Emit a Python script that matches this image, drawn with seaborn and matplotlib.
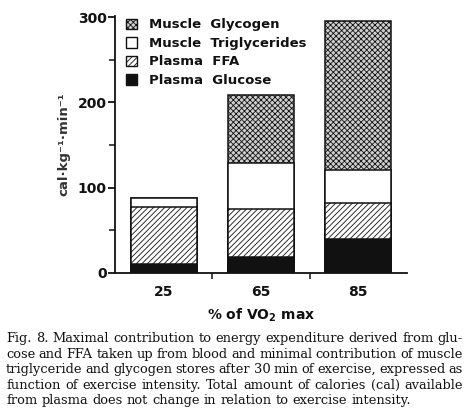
import matplotlib
matplotlib.use("Agg")
import matplotlib.pyplot as plt
import seaborn as sns
import pandas as pd
import numpy as np

# ---- data ----
intensity = ["25", "65", "85"]
plasma_glucose = [10, 18, 40]
plasma_ffa = [67, 57, 42]
muscle_tg = [11, 54, 39]
muscle_glycogen = [0, 80, 175]
y_ticks = [0, 100, 200, 300]

caption_lines = [
    "Fig. 8. Maximal contribution to energy expenditure derived from glu-",
    "cose and FFA taken up from blood and minimal contribution of muscle",
    "triglyceride and glycogen stores after 30 min of exercise, expressed as",
    "function of exercise intensity. Total amount of calories (cal) available",
    "from plasma does not change in relation to exercise intensity.",
]

sns.set_theme(style="ticks")
plt.rcParams["font.family"] = ["DejaVu Sans"]
plt.rcParams["hatch.linewidth"] = 0.6

df = pd.DataFrame({
    "intensity": intensity,
    "glucose": plasma_glucose,
    "ffa": plasma_ffa,
    "tg": muscle_tg,
    "glycogen": muscle_glycogen,
})
df["c1"] = df["glucose"]
df["c2"] = df["c1"] + df["ffa"]
df["c3"] = df["c2"] + df["tg"]
df["c4"] = df["c3"] + df["glycogen"]

fig = plt.figure(figsize=(4.72, 4.15), dpi=100)
ax = fig.add_axes([0.2436, 0.3429, 0.6186, 0.6193])

layers = [
    ("c4", "Muscle  Glycogen", "#cfcfcf", "xxxxxx"),
    ("c3", "Muscle  Triglycerides", "white", None),
    ("c2", "Plasma  FFA", "white", "//////"),
    ("c1", "Plasma  Glucose", "#111111", None),
]
handles = []
for col, lab, fc, hatch in layers:
    sns.barplot(data=df, x="intensity", y=col, ax=ax, color=fc, width=0.68,
                edgecolor="#111111", linewidth=1.1, hatch=hatch, saturation=1,
                errorbar=None)
    handles.append(matplotlib.patches.Patch(facecolor=fc, edgecolor="#111111",
                                            hatch=hatch, linewidth=1.0, label=lab))

ax.set_xlim(-0.5, 2.5)
ax.set_ylim(0, 302)
ax.set_yticks(y_ticks)
ax.set_yticks([50, 150, 250], minor=True)
ax.set_xticks([0.5, 1.5], minor=True)
for s in ["top", "right"]:
    ax.spines[s].set_visible(False)
for s in ["left", "bottom"]:
    ax.spines[s].set_linewidth(1.3)
    ax.spines[s].set_color("#111111")
ax.tick_params(axis="y", which="major", length=5, width=1.3, pad=1,
               labelsize=10, colors="#111111")
ax.tick_params(axis="y", which="minor", length=4, width=1.1, color="#111111")
ax.tick_params(axis="x", which="major", length=0, pad=9, labelsize=10,
               colors="#111111")
ax.tick_params(axis="x", which="minor", length=4, width=1.1, color="#111111")
for t in ax.get_xticklabels() + ax.get_yticklabels():
    t.set_fontweight("bold")
ax.set_xlabel(r"% of VO$_\mathbf{2}$ max", fontsize=10, fontweight="bold",
              labelpad=5, color="#111111")
ax.set_ylabel("cal·kg⁻¹·min⁻¹", fontsize=9.5, fontweight="bold",
              labelpad=5, color="#333333")

leg = ax.legend(handles=handles, loc="upper left", bbox_to_anchor=(0.02, 1.01),
                frameon=False, fontsize=9.5, handlelength=0.85,
                handleheight=0.85, handletextpad=0.9, labelspacing=0.42,
                borderaxespad=0)
for t in leg.get_texts():
    t.set_fontweight("bold")
    t.set_color("#111111")

# ---- caption (justified) ----
renderer = fig.canvas.get_renderer()
W, H = 472.0, 415.0
x0, x1 = 6.0, 463.0
base0 = 342.0
dy = 15.5
cap_kw = dict(family="DejaVu Serif", fontsize=9.4, color="#111111",
              va="baseline", ha="left")
for i, line in enumerate(caption_lines):
    words = line.split(" ")
    yb = 1 - (base0 + i * dy) / H
    texts = [fig.text(0, yb, w, **cap_kw) for w in words]
    widths = [t.get_window_extent(renderer).width for t in texts]
    if i < len(caption_lines) - 1:
        gap = (x1 - x0 - sum(widths)) / (len(words) - 1)
    else:
        sp = fig.text(0, 0, "a a", **cap_kw)
        sp2 = fig.text(0, 0, "aa", **cap_kw)
        gap = sp.get_window_extent(renderer).width - sp2.get_window_extent(renderer).width
        sp.remove(); sp2.remove()
    x = x0
    for t, w in zip(texts, widths):
        t.set_x(x / W)
        x += w + gap

fig.savefig("out.png", dpi=100)
